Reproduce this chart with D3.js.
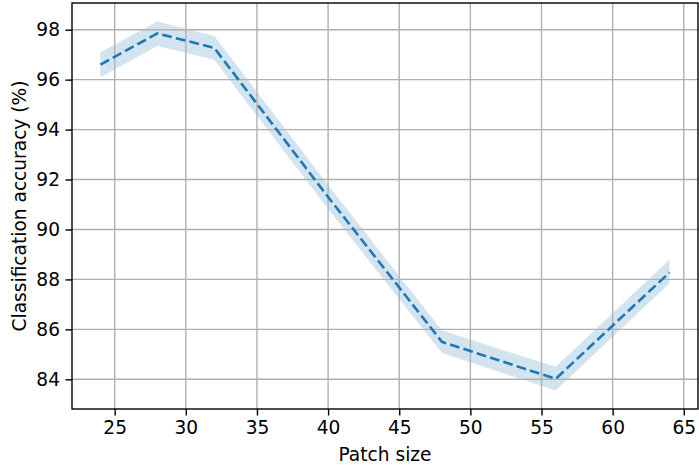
<!DOCTYPE html>
<html>
<head>
<meta charset="utf-8">
<script src="https://cdn.jsdelivr.net/npm/d3@7"></script>
<style>
  body { margin: 0; background: #fff; }
  text { font-family: "DejaVu Sans", sans-serif; fill: #000; }
</style>
</head>
<body>
<div id="chart"></div>
<script>
// patch size vs accuracy, band = spread over runs
var patchSizes = [24, 28, 32, 40, 48, 56, 64];
var accMean    = [96.6, 97.85, 97.27, 91.3, 85.5, 84.02, 88.28];
var accLower   = [96.1, 97.35, 96.8, 90.82, 85.05, 83.55, 87.85];
var accUpper   = [97.1, 98.33, 97.75, 91.78, 85.95, 84.5, 88.8];
var xTicks = [25, 30, 35, 40, 45, 50, 55, 60, 65];
var yTicks = [84, 86, 88, 90, 92, 94, 96, 98];

var margin = {top: 3, right: 1, bottom: 61, left: 72};
var width = 699 - margin.left - margin.right,
    height = 470 - margin.top - margin.bottom;
var fontPx = "18.6px";

var rows = patchSizes.map(function(p, i) {
    return {x: p, y: accMean[i], lo: accLower[i], hi: accUpper[i]};
});

var xScale = d3.scaleLinear().domain([22, 66]).range([0, width]);
var yMin = d3.min(accLower), yMax = d3.max(accUpper);
var pad = (yMax - yMin) * 0.05;
var yScale = d3.scaleLinear().domain([yMin - pad, yMax + pad]).range([height, 0]);

var svg = d3.select("#chart").append("svg")
    .attr("width", 699)
    .attr("height", 470)
  .append("g")
    .attr("transform", "translate(" + margin.left + "," + margin.top + ")");

// band
var area = d3.area()
    .x(function(d) { return xScale(d.x); })
    .y0(function(d) { return yScale(d.lo); })
    .y1(function(d) { return yScale(d.hi); });
svg.append("path")
    .datum(rows)
    .attr("d", area)
    .attr("fill", "#1f77b4")
    .attr("fill-opacity", 0.2);

// grid
svg.append("g").selectAll("line").data(xTicks).enter().append("line")
    .attr("x1", function(d) { return xScale(d); })
    .attr("x2", function(d) { return xScale(d); })
    .attr("y1", 0).attr("y2", height)
    .attr("stroke", "#b0b0b0").attr("stroke-width", 1.4);
svg.append("g").selectAll("line").data(yTicks).enter().append("line")
    .attr("y1", function(d) { return yScale(d); })
    .attr("y2", function(d) { return yScale(d); })
    .attr("x1", 0).attr("x2", width)
    .attr("stroke", "#b0b0b0").attr("stroke-width", 1.4);

// mean line
var line = d3.line()
    .x(function(d) { return xScale(d.x); })
    .y(function(d) { return yScale(d.y); });
svg.append("path")
    .datum(rows)
    .attr("d", line)
    .attr("fill", "none")
    .attr("stroke", "#1f77b4")
    .attr("stroke-width", 2.6)
    .attr("stroke-dasharray", "9.8,4.2");

// axes
var xAxis = d3.axisBottom(xScale).tickValues(xTicks).tickSize(6.5).tickPadding(5.5);
var yAxis = d3.axisLeft(yScale).tickValues(yTicks).tickSize(6.5).tickPadding(5.5);

var gx = svg.append("g")
    .attr("transform", "translate(0," + height + ")")
    .call(xAxis);
var gy = svg.append("g").call(yAxis);

[gx, gy].forEach(function(g) {
    g.select(".domain").remove();
    g.selectAll(".tick line").attr("stroke", "#000").attr("stroke-width", 1.4);
    g.selectAll(".tick text")
        .style("font-family", "DejaVu Sans")
        .style("font-size", fontPx)
        .attr("fill", "#000");
});

// frame
svg.append("rect")
    .attr("x", 0).attr("y", 0)
    .attr("width", width).attr("height", height)
    .attr("fill", "none")
    .attr("stroke", "#000")
    .attr("stroke-width", 1.4);

svg.append("text")
    .attr("x", width / 2)
    .attr("y", height + 52)
    .attr("text-anchor", "middle")
    .style("font-size", fontPx)
    .text("Patch size");

svg.append("text")
    .attr("transform", "rotate(-90)")
    .attr("x", -height / 2)
    .attr("y", -46.5)
    .attr("text-anchor", "middle")
    .style("font-size", fontPx)
    .text("Classification accuracy (%)");
</script>
</body>
</html>
